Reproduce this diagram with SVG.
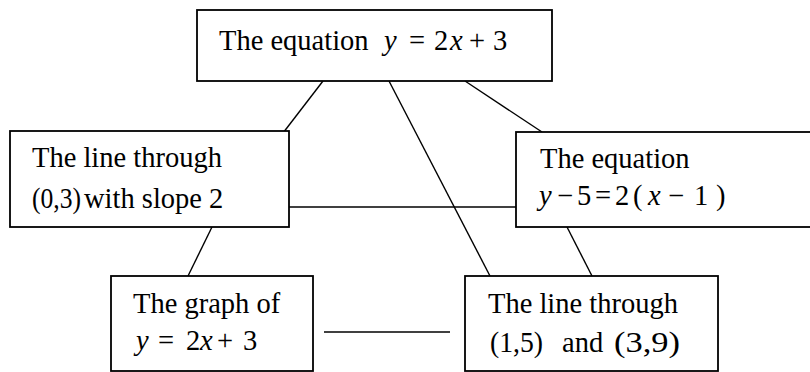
<svg xmlns="http://www.w3.org/2000/svg" width="810" height="372" viewBox="0 0 810 372">
<style>
.box{fill:#fff;stroke:#000;stroke-width:1.8}
.c{stroke:#000;stroke-width:1.4;fill:none}
text{font-family:"Liberation Serif","Times New Roman",serif;font-size:28.5px;fill:#000}
.i{font-style:italic}
</style>
<rect width="810" height="372" fill="#fff"/>
<g id="connectors">
<line class="c" x1="323" y1="81" x2="273" y2="146"/>
<line class="c" x1="389" y1="81" x2="490" y2="276"/>
<line class="c" x1="465" y1="81" x2="542" y2="132"/>
<line class="c" x1="289" y1="207" x2="516" y2="207"/>
<line class="c" x1="212" y1="227" x2="188" y2="276"/>
<line class="c" x1="567" y1="227" x2="592" y2="276"/>
<line class="c" x1="324" y1="332" x2="450" y2="332"/>
</g>
<g id="top">
<rect class="box" x="197" y="10" width="355" height="71"/>
<text y="50"><tspan x="219">The equation</tspan><tspan class="i" x="384">y</tspan><tspan x="409">=</tspan><tspan x="434">2</tspan><tspan class="i" x="450">x</tspan><tspan x="469">+</tspan><tspan x="493">3</tspan></text>
</g>
<g id="left">
<rect class="box" x="10" y="131" width="279" height="96"/>
<text x="32" y="167">The line through</text>
<text x="32" y="208" textLength="49" lengthAdjust="spacingAndGlyphs">(0,3)</text>
<text x="84" y="208">with slope 2</text>
</g>
<g id="right">
<rect class="box" x="516" y="132" width="300" height="95"/>
<text x="540" y="168">The equation</text>
<text y="205"><tspan class="i" x="539">y</tspan><tspan x="557">−</tspan><tspan x="577">5</tspan><tspan x="595">=</tspan><tspan x="615">2</tspan><tspan x="633">(</tspan><tspan class="i" x="648">x</tspan><tspan x="668">−</tspan><tspan x="694">1</tspan><tspan x="716">)</tspan></text>
</g>
<g id="bottom-left">
<rect class="box" x="111" y="276" width="202" height="95"/>
<text x="133" y="313">The graph of</text>
<text y="350"><tspan class="i" x="136">y</tspan><tspan x="158">=</tspan><tspan x="186">2</tspan><tspan class="i" x="200">x</tspan><tspan x="217">+</tspan><tspan x="243">3</tspan></text>
</g>
<g id="bottom-right">
<rect class="box" x="465" y="276" width="253" height="95"/>
<text x="488" y="313">The line through</text>
<text x="490" y="352" textLength="53" lengthAdjust="spacingAndGlyphs">(1,5)</text>
<text x="562" y="352">and</text>
<text x="614" y="352" textLength="66" lengthAdjust="spacingAndGlyphs">(3,9)</text>
</g>
</svg>
